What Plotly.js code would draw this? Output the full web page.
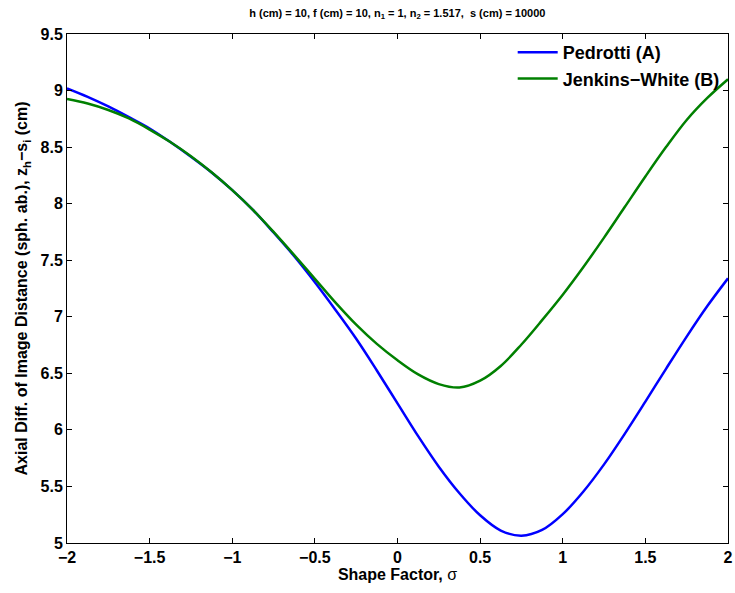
<!DOCTYPE html>
<html>
<head>
<meta charset="utf-8">
<script src="https://cdn.plot.ly/plotly-3.0.1.min.js"></script>
<style>html,body{margin:0;padding:0;background:#fff;}</style>
</head>
<body>
<div id="chart" style="width:735px;height:593px;"></div>
<script>
// Shape factor sigma (at steps of 0.125)
const sigma = [-2.0, -1.875, -1.75, -1.625, -1.5, -1.375, -1.25, -1.125, -1.0, -0.875, -0.75, -0.625, -0.5, -0.375, -0.25, -0.125,
               0.0, 0.125, 0.25, 0.375, 0.5, 0.625, 0.75, 0.875, 1.0, 1.125, 1.25, 1.375, 1.5, 1.625, 1.75, 1.875, 2.0];
const pedrotti = [9.02, 8.945, 8.86, 8.765, 8.665, 8.545, 8.415, 8.276, 8.12, 7.945, 7.745, 7.535, 7.305, 7.06, 6.805, 6.525,
                  6.235, 5.945, 5.675, 5.44, 5.245, 5.11, 5.065, 5.115, 5.255, 5.455, 5.695, 5.965, 6.25, 6.54, 6.825, 7.095, 7.34];
const jenkinsWhite = [8.925, 8.885, 8.828, 8.753, 8.655, 8.545, 8.42, 8.278, 8.12, 7.945, 7.75, 7.545, 7.335, 7.125, 6.93, 6.76,
                      6.615, 6.49, 6.405, 6.375, 6.435, 6.565, 6.755, 6.97, 7.195, 7.44, 7.70, 7.97, 8.24, 8.50, 8.74, 8.935, 9.10];
const seriesNames = ['Pedrotti (A)', 'Jenkins\u2212White (B)'];
const xTicks = [-2, -1.5, -1, -0.5, 0, 0.5, 1, 1.5, 2];
const xTickText = ['\u22122', '\u22121.5', '\u22121', '\u22120.5', '0', '0.5', '1', '1.5', '2'];
const yTicks = [5, 5.5, 6, 6.5, 7, 7.5, 8, 8.5, 9, 9.5];
const yTickText = ['5', '5.5', '6', '6.5', '7', '7.5', '8', '8.5', '9', '9.5'];

const font = 'Liberation Sans, Arial, Helvetica, sans-serif';

const traces = [
  {x: sigma, y: pedrotti, name: seriesNames[0], mode: 'lines',
   line: {color: '#0000ff', width: 2.5, shape: 'spline', smoothing: 1}},
  {x: sigma, y: jenkinsWhite, name: seriesNames[1], mode: 'lines',
   line: {color: '#008000', width: 2.5, shape: 'spline', smoothing: 1}}
];

const axisCommon = {
  showline: true, linecolor: '#000', linewidth: 1, mirror: 'allticks',
  ticks: 'inside', ticklen: 5, tickcolor: '#000', tickwidth: 1,
  showgrid: false, zeroline: false,
  tickfont: {family: font, size: 16, color: '#000', weight: 'bold'}
};

const layout = {
  width: 735, height: 593,
  margin: {l: 67, r: 7, t: 34, b: 50},
  paper_bgcolor: '#fff', plot_bgcolor: '#fff',
  font: {family: font, color: '#000'},
  title: {
    text: '<b>h (cm) = 10, f (cm) = 10, n<sub>1</sub> = 1, n<sub>2</sub> = 1.517,  s (cm) = 10000</b>',
    font: {family: 'Liberation Sans Narrow, ' + font, size: 11, color: '#000'},
    x: 0.5406, xanchor: 'center', y: 0.985, yanchor: 'top'
  },
  xaxis: Object.assign({}, axisCommon, {
    range: [-2, 2], tickvals: xTicks, ticktext: xTickText,
    title: {text: '<b>Shape Factor,</b> \u03c3', font: {family: font, size: 16, color: '#000'}, standoff: 2}
  }),
  yaxis: Object.assign({}, axisCommon, {
    range: [5, 9.5], tickvals: yTicks, ticktext: yTickText,
    title: {text: '<b>Axial Diff. of Image Distance (sph. ab.), z<sub>h</sub>\u2212s<sub>i</sub> (cm)</b>', font: {family: font, size: 16, color: '#000'}, standoff: 8}
  }),
  showlegend: true,
  legend: {
    x: 0.995, xanchor: 'right', y: 1.0, yanchor: 'top',
    bgcolor: 'rgba(255,255,255,0)', borderwidth: 0,
    font: {family: font, size: 18, color: '#000', weight: 'bold'},
    itemwidth: 40, tracegroupgap: 0
  }
};

Plotly.newPlot('chart', traces, layout, {displayModeBar: false, staticPlot: true});
</script>
</body>
</html>
